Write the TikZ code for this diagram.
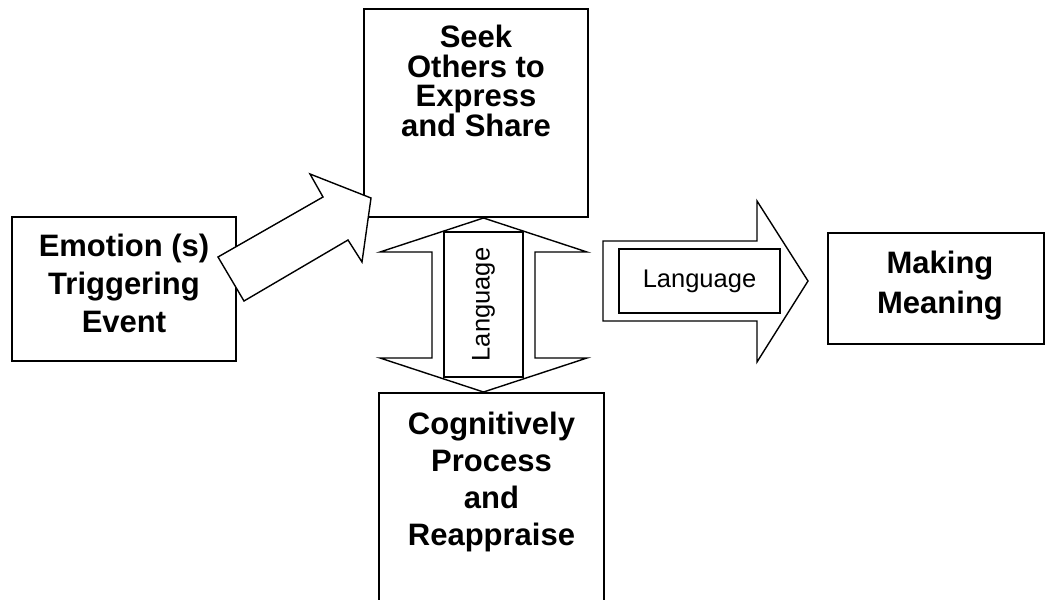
\documentclass[tikz,border=0pt]{standalone}
\usepackage{fontspec}
\setmainfont{Liberation Sans}
\begin{document}
\begin{tikzpicture}[x=1pt,y=-1pt,
  box/.style={draw,line width=1.8pt,inner sep=0pt,fill=white},
  boxtext/.style={align=center,inner sep=0pt,font=\fontsize{31}{#1}\selectfont\bfseries},
  blockarrow/.style={draw,line width=1.4pt,fill=white,line join=miter},
  labelbox/.style={draw,line width=1.8pt,fill=white,inner sep=0pt,font=\fontsize{25.5}{30}\selectfont}]
\useasboundingbox (0,0) rectangle (1048,599);
\fill[white] (0,0) rectangle (1048,599);
\clip (0,0) rectangle (1048,599);

% boxes
\node[box,minimum width=224pt,minimum height=144pt] (emo) at (124,289) {};
\node[box,minimum width=224pt,minimum height=208pt] (seek) at (476,113) {};
\node[box,minimum width=225pt,minimum height=227pt] (cog) at (491.5,506.5) {};
\node[box,minimum width=216pt,minimum height=111pt] (mean) at (936,288.5) {};

% box texts
\node[boxtext=38] (emotxt) at (124,283) {Emotion (s)\\Triggering\\Event};
\node[boxtext=29.6] (seektxt) at (476,81) {Seek\\Others to\\Express\\and Share};
\node[boxtext=36.7] (cogtxt) at (491.5,482) {Cognitively\\Process\\and\\Reappraise};
\node[boxtext=40] (meantxt) at (940,286) {Making\\Meaning};

% diagonal block arrow
\path[blockarrow] (218,257) -- (323,197) -- (310,174) -- (371,198) -- (362,262)
  -- (348,240) -- (244,301) -- cycle;

% vertical double block arrow
\path[blockarrow] (483.5,218) -- (587,252) -- (535,252) -- (535,358) -- (587,358)
  -- (483.5,392) -- (380,358) -- (432,358) -- (432,252) -- (380,252) -- cycle;
\node[labelbox,rotate=90,minimum width=145pt,minimum height=79pt] (vlab) at (483.5,304.5) {Language};

% horizontal block arrow
\path[blockarrow] (603,241) -- (757,241) -- (757,201) -- (808,281) -- (757,362)
  -- (757,321) -- (603,321) -- cycle;
\node[labelbox,minimum width=161pt,minimum height=64pt] (hlab) at (699.5,281) {Language};
\end{tikzpicture}
\end{document}
